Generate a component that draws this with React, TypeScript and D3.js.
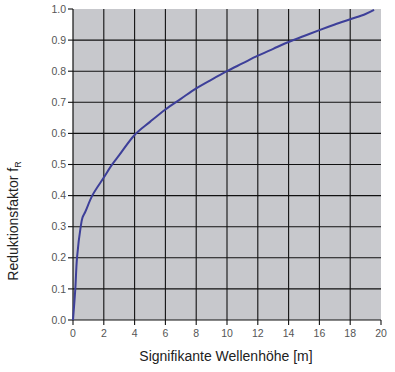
import React from "react";
import * as d3 from "d3";

const xTicks = [0, 2, 4, 6, 8, 10, 12, 14, 16, 18, 20];
const yTicks = [0, 0.1, 0.2, 0.3, 0.4, 0.5, 0.6, 0.7, 0.8, 0.9, 1.0];
const waveHeight = [0, 0.15, 0.26, 0.5, 0.62, 0.8, 1.25, 2, 2.5, 3, 4, 5, 6, 7, 8, 9, 10, 11, 12, 13, 14, 15, 16, 17, 18, 19, 19.55];
const factor = [0, 0.1, 0.2, 0.3, 0.33, 0.348, 0.4, 0.458, 0.497, 0.53, 0.595, 0.637, 0.677, 0.711, 0.745, 0.773, 0.8, 0.825, 0.85, 0.872, 0.894, 0.913, 0.932, 0.95, 0.967, 0.984, 0.997];

export default function App() {
  const W = 395, H = 372;
  const left = 73, right = 381, top = 9, bottom = 320;
  const x = d3.scaleLinear().domain([0, 20]).range([left, right]);
  const y = d3.scaleLinear().domain([0, 1]).range([bottom, top]);
  const pts = waveHeight.map((d, i) => [d, factor[i]] as [number, number]);
  const line = d3.line<[number, number]>().x(d => x(d[0])).y(d => y(d[1])).curve(d3.curveCatmullRom.alpha(0.5));
  const font = "Arial, 'Liberation Sans', sans-serif";
  return (
    <svg width={W} height={H} style={{ position: "absolute", left: 0, top: 0, background: "#fff" }} fontFamily={font}>
      <rect x={left} y={top} width={right - left} height={bottom - top} fill="#c7c8cc" />
      {xTicks.filter(t => t > 0 && t < 20).map(t => (
        <line key={"gx" + t} x1={x(t)} x2={x(t)} y1={top} y2={bottom} stroke="#111" strokeWidth={1.1} />
      ))}
      {yTicks.filter(t => t > 0 && t < 1).map(t => (
        <line key={"gy" + t} x1={left} x2={right} y1={y(t)} y2={y(t)} stroke="#111" strokeWidth={1.1} />
      ))}
      <line x1={left} x2={left} y1={top} y2={bottom} stroke="#111" strokeWidth={1.2} />
      <line x1={left} x2={right} y1={bottom} y2={bottom} stroke="#111" strokeWidth={1.2} />
      {yTicks.map(t => (
        <g key={"ty" + t}>
          <line x1={left - 5} x2={left} y1={y(t)} y2={y(t)} stroke="#111" strokeWidth={1.1} />
          <text x={left - 7} y={y(t)} dy="0.35em" textAnchor="end" fontSize={10.5} fill="#555">{t.toFixed(1)}</text>
        </g>
      ))}
      {xTicks.map(t => (
        <g key={"tx" + t}>
          <line x1={x(t)} x2={x(t)} y1={bottom} y2={bottom + 5} stroke="#111" strokeWidth={1.1} />
          <text x={x(t)} y={336.5} textAnchor="middle" fontSize={10.5} fill="#555">{t}</text>
        </g>
      ))}
      <path d={line(pts) || ""} fill="none" stroke="#3d3f99" strokeWidth={2} />
      <text x={226} y={361} textAnchor="middle" fontSize={14} fill="#222">Signifikante Wellenhöhe [m]</text>
      <text transform="translate(18,221) rotate(-90)" textAnchor="middle" fontSize={14} fill="#222">
        Reduktionsfaktor f<tspan fontSize={9} dy={3}>R</tspan>
      </text>
    </svg>
  );
}
